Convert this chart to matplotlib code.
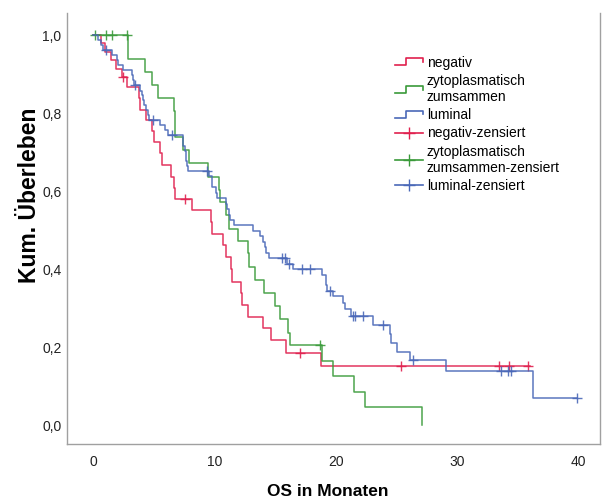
import numpy as np
import matplotlib
matplotlib.use("Agg")
import matplotlib.pyplot as plt
from matplotlib.lines import Line2D
from matplotlib.legend_handler import HandlerBase

plt.rcParams['font.family'] = ['Liberation Sans', 'DejaVu Sans']

# Kaplan-Meier steps: event times (months) and survival after each event
neg_t = [0.7, 1.0, 1.5, 1.9, 2.35, 2.8, 3.8, 3.85, 4.4, 4.9, 5.0, 5.5, 5.65, 6.4, 6.65, 6.75,
         8.15, 9.75, 9.85, 10.7, 11.0, 11.35, 11.5, 12.2, 12.3, 12.8, 14.0, 14.65, 15.9, 18.8]
neg_s = [0.979, 0.957, 0.936, 0.914, 0.893, 0.867, 0.838, 0.809, 0.782, 0.754, 0.726, 0.697,
         0.667, 0.637, 0.609, 0.581, 0.551, 0.521, 0.491, 0.462, 0.432, 0.40, 0.368, 0.338,
         0.308, 0.278, 0.248, 0.218, 0.186, 0.151]
neg_end = 36.0
neg_cens = [2.45, 7.6, 17.1, 25.4, 33.5, 34.3, 35.9]

zyt_t = [2.9, 4.3, 4.9, 5.35, 6.65, 6.8, 7.45, 7.95, 9.5, 10.35, 10.5, 10.95, 11.2, 11.95,
         12.8, 12.9, 13.35, 14.1, 15.0, 15.4, 16.1, 16.25, 18.85, 19.8, 21.55, 22.45, 27.1]
zyt_s = [0.938, 0.906, 0.872, 0.84, 0.806, 0.739, 0.705, 0.671, 0.637, 0.603, 0.571, 0.538,
         0.504, 0.473, 0.44, 0.406, 0.372, 0.339, 0.305, 0.271, 0.237, 0.205, 0.164, 0.126,
         0.085, 0.045, 0.0]
zyt_end = 27.1
zyt_cens = [0.15, 1.05, 1.6, 2.8, 18.75]

lum_t = [0.4, 0.7, 0.85, 1.55, 1.95, 2.1, 2.5, 3.2, 3.3, 3.35, 3.9, 4.0, 4.1, 4.2, 4.4, 4.5,
         4.6, 5.5, 5.9, 6.2, 7.45, 7.6, 7.67, 7.7, 7.75, 7.8, 9.6, 9.8, 9.85, 10.1, 10.2, 11.0,
         11.05, 11.25, 11.3, 11.6, 13.2, 13.8, 14.05, 14.2, 14.3, 14.55, 16.0, 16.5, 18.9,
         19.25, 19.3, 19.75, 20.65, 20.8, 21.3, 23.05, 24.5, 24.55, 25.05, 26.1, 29.1, 36.25]
lum_s = [0.987, 0.975, 0.962, 0.949, 0.936, 0.923, 0.91, 0.897, 0.884, 0.871, 0.858, 0.846,
         0.833, 0.82, 0.807, 0.794, 0.782, 0.769, 0.756, 0.743, 0.717, 0.704, 0.691, 0.678,
         0.665, 0.652, 0.638, 0.624, 0.61, 0.596, 0.582, 0.568, 0.554, 0.54, 0.526, 0.512,
         0.498, 0.484, 0.47, 0.456, 0.442, 0.428, 0.414, 0.40, 0.385, 0.36, 0.345, 0.33,
         0.314, 0.297, 0.28, 0.257, 0.234, 0.211, 0.188, 0.166, 0.139, 0.07]
lum_end = 39.9
lum_cens = [1.05, 3.5, 4.95, 6.5, 9.43, 15.6, 15.85, 16.2, 17.2, 17.9, 19.55, 21.4, 21.6,
            22.3, 23.95, 26.4, 33.6, 34.25, 34.45, 39.9]

x_ticks = [0, 10, 20, 30, 40]
y_ticks = [0.0, 0.2, 0.4, 0.6, 0.8, 1.0]

RED = '#e0204e'
GREEN = '#3a9a3a'
BLUE = '#4a68b8'


def km_line(times, surv, end):
    t = np.r_[0.0, times, end]
    s = np.r_[1.0, surv, surv[-1]]
    return t, s


def surv_at(times, surv, x):
    idx = np.searchsorted(np.asarray(times), x, side='right')
    return np.r_[1.0, surv][idx]


class StepHandler(HandlerBase):
    def create_artists(self, legend, orig_handle, xdescent, ydescent, width, height, fontsize, trans):
        x0, y0 = -xdescent, -ydescent
        xs = x0 + width * np.array([0.0, 0.42, 0.42, 1.0, 1.0])
        ys = y0 + height * np.array([0.15, 0.15, 0.85, 0.85, 0.5])
        ln = Line2D(xs, ys, color=orig_handle.get_color(), lw=1.2)
        ln.set_transform(trans)
        return [ln]


fig = plt.figure(figsize=(6.03, 4.99), dpi=100)
ax = fig.add_axes([0.111, 0.110, 0.884, 0.864])

groups = [(neg_t, neg_s, neg_end, neg_cens, RED),
          (zyt_t, zyt_s, zyt_end, zyt_cens, GREEN),
          (lum_t, lum_s, lum_end, lum_cens, BLUE)]
for times, surv, end, cens, col in groups:
    t, s = km_line(times, surv, end)
    ax.step(t, s, where='post', color=col, lw=1.1, alpha=0.9)
    cy = surv_at(times, surv, np.array(cens))
    ax.plot(cens, cy, ls='none', marker='+', ms=7, mew=1.0, color=col, alpha=0.9)

ax.set_xlim(-2.15, 41.8)
ax.set_ylim(-0.049, 1.057)
ax.set_xticks(x_ticks)
ax.set_xticklabels([str(v) for v in x_ticks])
ax.set_yticks(y_ticks)
ax.set_yticklabels([f'{v:.1f}'.replace('.', ',') for v in y_ticks])
ax.tick_params(length=0, labelsize=10, colors='#222222')
ax.tick_params(axis='x', pad=8)
ax.tick_params(axis='y', pad=4)
for side in ['left', 'bottom', 'right']:
    ax.spines[side].set_color('#a0a0a0')
    ax.spines[side].set_linewidth(1.0)
ax.spines['top'].set_visible(False)

ax.set_xlabel('OS in Monaten', fontsize=12.5, fontweight='bold', va='center')
ax.xaxis.set_label_coords(0.489, -0.109)
ax.set_ylabel('Kum. Überleben', fontsize=16.5, fontweight='bold', va='center')
ax.yaxis.set_label_coords(-0.07, 0.578)

h_neg = Line2D([], [], color=RED)
h_zyt = Line2D([], [], color=GREEN)
h_lum = Line2D([], [], color=BLUE)
c_neg = Line2D([], [], color=RED, marker='+', ms=9, lw=1.2)
c_zyt = Line2D([], [], color=GREEN, marker='+', ms=9, lw=1.2)
c_lum = Line2D([], [], color=BLUE, marker='+', ms=9, lw=1.2)
ax.legend([h_neg, h_zyt, h_lum, c_neg, c_zyt, c_lum],
          ['negativ', 'zytoplasmatisch\nzumsammen', 'luminal', 'negativ-zensiert',
           'zytoplasmatisch\nzumsammen-zensiert', 'luminal-zensiert'],
          handler_map={h_neg: StepHandler(), h_zyt: StepHandler(), h_lum: StepHandler()},
          loc='upper left', bbox_to_anchor=(0.602, 0.917), frameon=False, fontsize=10,
          handlelength=2.0, handletextpad=0.3, labelspacing=0.3, borderpad=0)

fig.savefig('out.png', dpi=100)
